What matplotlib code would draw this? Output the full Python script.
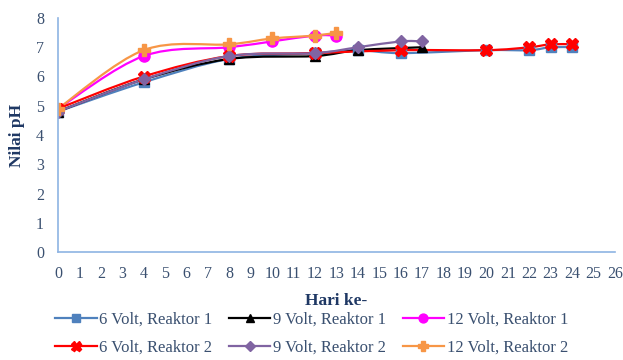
import matplotlib
matplotlib.use("Agg")
import matplotlib.pyplot as plt
from matplotlib.path import Path
from matplotlib.patches import PathPatch
from matplotlib.lines import Line2D

# data
days_6v_r1 = [0, 4, 8, 12, 14, 16, 20, 22, 23, 24]
ph_6v_r1 = [4.8, 5.8, 6.6, 6.8, 6.9, 6.8, 6.9, 6.9, 7.0, 7.0]

days_9v_r1 = [0, 4, 8, 12, 14, 17]
ph_9v_r1 = [4.8, 5.9, 6.6, 6.7, 6.9, 7.0]

days_12v_r1 = [0, 4, 8, 10, 12, 13]
ph_12v_r1 = [4.9, 6.7, 7.0, 7.2, 7.4, 7.4]

days_6v_r2 = [0, 4, 8, 12, 16, 20, 22, 23, 24]
ph_6v_r2 = [4.9, 6.0, 6.7, 6.8, 6.9, 6.9, 7.0, 7.1, 7.1]

days_9v_r2 = [0, 4, 8, 12, 14, 16, 17]
ph_9v_r2 = [4.8, 5.9, 6.7, 6.8, 7.0, 7.2, 7.2]

days_12v_r2 = [0, 4, 8, 10, 12, 13]
ph_12v_r2 = [4.9, 6.9, 7.1, 7.3, 7.4, 7.5]

labels = ["6 Volt, Reaktor 1", "9 Volt, Reaktor 1", "12 Volt, Reaktor 1",
          "6 Volt, Reaktor 2", "9 Volt, Reaktor 2", "12 Volt, Reaktor 2"]
colors = ["#4F81BD", "#000000", "#FF00FF", "#FF0000", "#8064A2", "#F79646"]
markers = ["s", "^", "o", "X", "D", "P"]
msizes = [7, 7, 8, 9, 6, 9]

series = [(days_6v_r1, ph_6v_r1), (days_9v_r1, ph_9v_r1), (days_12v_r1, ph_12v_r1),
          (days_6v_r2, ph_6v_r2), (days_9v_r2, ph_9v_r2), (days_12v_r2, ph_12v_r2)]

text_col = "#3A5070"
label_col = "#1F3864"
axis_col = "#8EB4E3"

plt.rcParams["font.family"] = ["Liberation Serif", "DejaVu Serif"]


def smooth_path(xs, ys):
    # excel-style smoothed line: cubic bezier through the points
    pts = list(zip(xs, ys))
    verts = [pts[0]]
    codes = [Path.MOVETO]
    n = len(pts)
    for i in range(n - 1):
        p0 = pts[i - 1] if i > 0 else pts[i]
        p1 = pts[i]
        p2 = pts[i + 1]
        p3 = pts[i + 2] if i + 2 < n else pts[i + 1]
        c1 = (p1[0] + (p2[0] - p0[0]) / 6, p1[1] + (p2[1] - p0[1]) / 6)
        c2 = (p2[0] - (p3[0] - p1[0]) / 6, p2[1] - (p3[1] - p1[1]) / 6)
        verts += [c1, c2, p2]
        codes += [Path.CURVE4] * 3
    return Path(verts, codes)


fig = plt.figure(figsize=(6.23, 3.6), dpi=100)
ax = fig.add_axes([0.093, 0.30, 0.894, 0.65])

handles = []
for (xs, ys), lab, c, m, ms in zip(series, labels, colors, markers, msizes):
    ax.add_patch(PathPatch(smooth_path(xs, ys), facecolor="none", edgecolor=c, lw=1.6))
    ax.plot(xs, ys, ls="none", marker=m, ms=ms, color=c, mec=c)
    handles.append(Line2D([], [], color=c, lw=1.6, marker=m, ms=ms * 0.8, mec=c))

ax.set_xlim(0, 26)
ax.set_ylim(0, 8)
ax.set_xticks(range(0, 27))
ax.set_yticks(range(0, 9))
ax.tick_params(length=0, labelsize=11.5, labelcolor=text_col, pad=10)
for s in ["top", "right"]:
    ax.spines[s].set_visible(False)
for s in ["left", "bottom"]:
    ax.spines[s].set_color(axis_col)
    ax.spines[s].set_linewidth(1.2)

ax.set_xlabel("Hari ke-", fontsize=12.5, fontweight="bold", color=label_col, labelpad=8)
ax.set_ylabel("Nilai pH", fontsize=12.5, fontweight="bold", color=label_col, labelpad=8)

# legend fills column-wise, so reorder to get row-wise layout
order = [0, 3, 1, 4, 2, 5]
leg = fig.legend([handles[i] for i in order], [labels[i] for i in order],
                 loc="lower center", bbox_to_anchor=(0.5, -0.03), ncol=3,
                 frameon=False, fontsize=12, handlelength=2.5, columnspacing=1.0,
                 handletextpad=0.15, labelspacing=0.7)
for t in leg.get_texts():
    t.set_color(text_col)

fig.savefig("out.png", dpi=100)
